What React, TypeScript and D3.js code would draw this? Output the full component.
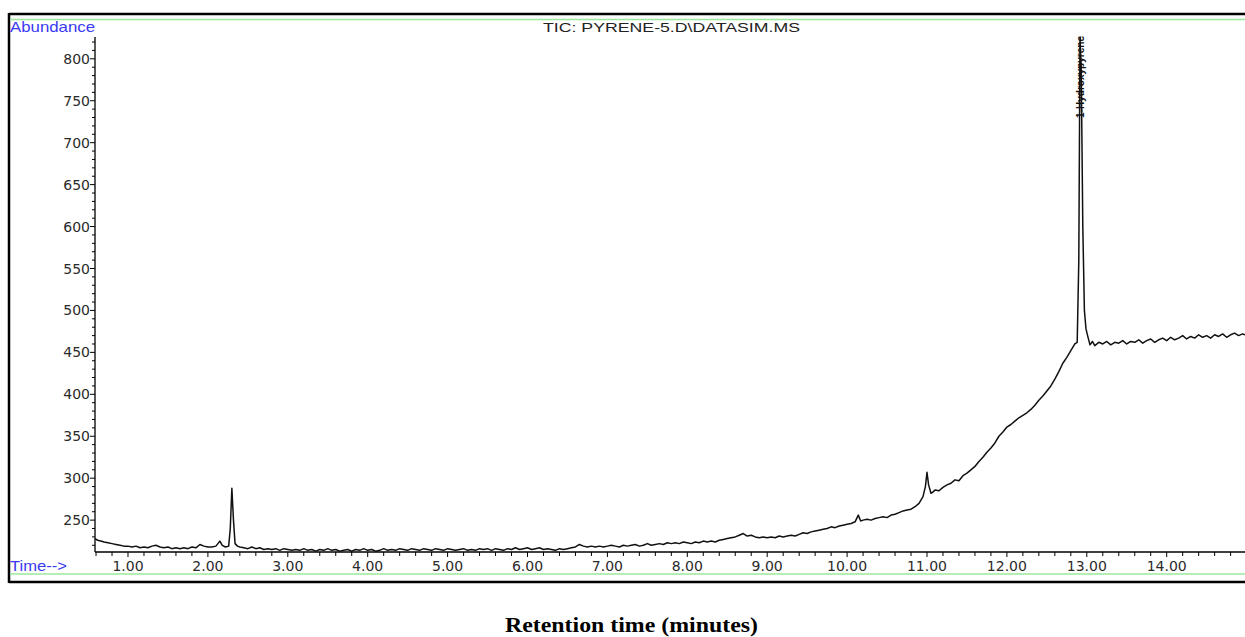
import * as d3 from "d3";
import React from "react";

// chromatogram trace, [retention time (min), abundance]
const earlyBaseline: [number, number][] = [
  [0.587, 228], [0.62, 226], [0.66, 225], [0.7, 224], [0.75, 223], [0.8, 222], [0.85, 221],
  [0.9, 220], [0.95, 219], [1.0, 219], [1.05, 218], [1.1, 219], [1.15, 217], [1.2, 218],
  [1.25, 217], [1.3, 219], [1.35, 220], [1.4, 218], [1.45, 217], [1.5, 218], [1.55, 216],
  [1.6, 217], [1.65, 216], [1.7, 217], [1.75, 216], [1.8, 218], [1.85, 217], [1.9, 221],
  [1.95, 219], [2.0, 218], [2.05, 218], [2.1, 219], [2.15, 225], [2.18, 220], [2.22, 218],
  [2.26, 219],
];

const firstPeak: [number, number][] = [
  [2.28, 240], [2.3, 288], [2.32, 250], [2.34, 222], [2.37, 219],
];

const flatBaseline: [number, number][] = [
  [2.4, 218], [2.45, 217], [2.5, 216], [2.55, 218], [2.6, 216], [2.65, 217], [2.7, 215],
  [2.75, 216], [2.8, 215], [2.85, 216], [2.9, 214], [2.95, 216], [3.0, 215], [3.05, 214],
  [3.1, 215], [3.15, 214], [3.2, 216], [3.25, 214], [3.3, 215], [3.35, 213], [3.4, 215],
  [3.45, 214], [3.5, 216], [3.55, 214], [3.6, 215], [3.65, 213], [3.7, 214], [3.75, 215],
  [3.8, 213], [3.85, 215], [3.9, 214], [3.95, 216], [4.0, 214], [4.05, 215], [4.1, 213],
  [4.15, 214], [4.2, 216], [4.25, 214], [4.3, 215], [4.35, 214], [4.4, 216], [4.45, 215],
  [4.5, 214], [4.55, 216], [4.6, 215], [4.65, 214], [4.7, 216], [4.75, 215], [4.8, 214],
  [4.85, 216], [4.9, 215], [4.95, 214], [5.0, 216], [5.05, 215], [5.1, 214], [5.15, 215],
  [5.2, 216], [5.25, 214], [5.3, 215], [5.35, 214], [5.4, 216], [5.45, 215], [5.5, 216],
  [5.55, 214], [5.6, 216], [5.65, 215], [5.7, 214], [5.75, 216], [5.8, 215], [5.85, 217],
  [5.9, 215], [5.95, 216], [6.0, 217], [6.05, 215], [6.1, 216], [6.15, 217], [6.2, 215],
  [6.25, 216], [6.3, 215], [6.35, 214], [6.4, 216], [6.45, 215], [6.5, 216], [6.55, 217],
];

const risingBaseline: [number, number][] = [
  [6.6, 218], [6.65, 221], [6.7, 219], [6.75, 218], [6.8, 219], [6.85, 218], [6.9, 219],
  [6.95, 218], [7.0, 219], [7.05, 220], [7.1, 219], [7.15, 218], [7.2, 220], [7.25, 219],
  [7.3, 220], [7.35, 221], [7.4, 219], [7.45, 220], [7.5, 222], [7.55, 220], [7.6, 221],
  [7.65, 222], [7.7, 221], [7.75, 223], [7.8, 222], [7.85, 223], [7.9, 222], [7.95, 224],
  [8.0, 223], [8.05, 222], [8.1, 224], [8.15, 223], [8.2, 225], [8.25, 224], [8.3, 225],
  [8.35, 224], [8.4, 226], [8.45, 227], [8.5, 228], [8.55, 229], [8.6, 230], [8.65, 232],
  [8.7, 234], [8.75, 231], [8.8, 232], [8.85, 230], [8.9, 229], [8.95, 230], [9.0, 229],
  [9.05, 230], [9.1, 229], [9.15, 231], [9.2, 230], [9.25, 231], [9.3, 232], [9.35, 231],
  [9.4, 233], [9.45, 235], [9.5, 234], [9.55, 236], [9.6, 237], [9.65, 238], [9.7, 239],
  [9.75, 240], [9.8, 242], [9.85, 241], [9.9, 243], [9.95, 244], [10.0, 245], [10.05, 246],
  [10.1, 248], [10.14, 256], [10.17, 249], [10.2, 250], [10.25, 251], [10.3, 250],
  [10.35, 252], [10.4, 253], [10.45, 254], [10.5, 253], [10.55, 256], [10.6, 257],
  [10.65, 259], [10.7, 261], [10.75, 262], [10.8, 263], [10.85, 266], [10.9, 270],
  [10.95, 278], [10.98, 290], [11.0, 307], [11.02, 292], [11.05, 282], [11.08, 284],
  [11.1, 286], [11.15, 285], [11.2, 289], [11.25, 292], [11.3, 294], [11.35, 298],
  [11.4, 297], [11.45, 303], [11.5, 306], [11.55, 310], [11.6, 314], [11.65, 320],
  [11.7, 325], [11.75, 331], [11.8, 336], [11.85, 342], [11.9, 350], [11.95, 355],
  [12.0, 361], [12.05, 364], [12.1, 368], [12.15, 372], [12.2, 375], [12.25, 378],
  [12.3, 382], [12.35, 387], [12.4, 393], [12.45, 398], [12.5, 404], [12.55, 410],
  [12.6, 418], [12.65, 427], [12.7, 437], [12.75, 444], [12.8, 452], [12.85, 460],
  [12.88, 462],
];

const mainPeak: [number, number][] = [
  [12.9, 560], [12.915, 825], [12.93, 790], [12.95, 600], [12.97, 500], [12.99, 478],
  [13.01, 470], [13.04, 459], [13.07, 463],
];

const plateau: [number, number][] = [
  [13.1, 458], [13.15, 462], [13.2, 460], [13.25, 463], [13.3, 459], [13.35, 462],
  [13.4, 461], [13.45, 464], [13.5, 460], [13.55, 463], [13.6, 462], [13.65, 465],
  [13.7, 461], [13.75, 464], [13.8, 466], [13.85, 462], [13.9, 465], [13.95, 467],
  [14.0, 464], [14.05, 468], [14.1, 465], [14.15, 467], [14.2, 470], [14.25, 466],
  [14.3, 469], [14.35, 467], [14.4, 471], [14.45, 468], [14.5, 470], [14.55, 467],
  [14.6, 471], [14.65, 469], [14.7, 472], [14.75, 468], [14.8, 471], [14.85, 473],
  [14.9, 470], [14.95, 472], [14.98, 471],
];

const xMajorTicks = [1, 2, 3, 4, 5, 6, 7, 8, 9, 10, 11, 12, 13, 14];
const yMajorTicks = [250, 300, 350, 400, 450, 500, 550, 600, 650, 700, 750, 800];

const title = "TIC: PYRENE-5.D\\DATASIM.MS";
const peakLabel = "1-Hydroxypyrene";
const peakTime = 12.915;

const W = 1245;
const H = 637;
const axisFont = "DejaVu Sans, sans-serif";
const labelFont = "Liberation Sans, Arial, sans-serif";

export default function App() {
  const trace = [
    ...earlyBaseline,
    ...firstPeak,
    ...flatBaseline,
    ...risingBaseline,
    ...mainPeak,
    ...plateau,
  ];

  const x = d3.scaleLinear().domain([0.587, 14.98]).range([95, 1245]);
  const y = d3.scaleLinear().domain([212, 826]).range([552, 37]);

  const line = d3
    .line<[number, number]>()
    .x((d) => x(d[0]))
    .y((d) => y(d[1]));

  // minor ticks every 0.2 min and every 10 counts
  const xMinor = d3.range(0.6, 14.99, 0.2).filter((t) => Math.abs(t - Math.round(t)) > 0.01);
  const yMinor = d3.range(220, 821, 10).filter((v) => v % 50 !== 0);

  return (
    <svg
      width={W}
      height={H}
      style={{ position: "absolute", left: 0, top: 0, background: "#fff" }}
    >
      {/* frame */}
      <line x1={9} x2={W} y1={14} y2={14} stroke="#000" strokeWidth={2.5} />
      <line x1={9} x2={W} y1={582} y2={582} stroke="#000" strokeWidth={2.5} />
      <line x1={9} x2={9} y1={13} y2={583} stroke="#000" strokeWidth={2.5} />
      <line x1={10} x2={W} y1={19.5} y2={19.5} stroke="#9de89d" strokeWidth={1.5} />
      <line x1={10} x2={W} y1={574} y2={574} stroke="#9de89d" strokeWidth={1.5} />

      <text
        x={10}
        y={32}
        fill="#3a3af0"
        fontFamily={labelFont}
        fontSize={14.5}
        textLength={85}
        lengthAdjust="spacingAndGlyphs"
      >
        Abundance
      </text>
      <text
        x={543}
        y={32}
        fill="#222"
        fontFamily={labelFont}
        fontSize={13.5}
        textLength={257}
        lengthAdjust="spacingAndGlyphs"
      >
        {title}
      </text>
      <text
        x={10}
        y={571}
        fill="#3a3af0"
        fontFamily={labelFont}
        fontSize={14.5}
        textLength={57}
        lengthAdjust="spacingAndGlyphs"
      >
        Time--&gt;
      </text>

      {/* y axis */}
      <line x1={95} x2={95} y1={y(826)} y2={y(212)} stroke="#000" strokeWidth={1.3} />
      {yMinor.map((v) => (
        <line key={"ym" + v} x1={92} x2={95} y1={y(v)} y2={y(v)} stroke="#000" strokeWidth={1} />
      ))}
      {yMajorTicks.map((v) => (
        <g key={"y" + v}>
          <line x1={90} x2={95} y1={y(v)} y2={y(v)} stroke="#000" strokeWidth={1} />
          <text
            x={90}
            y={y(v)}
            dy="0.36em"
            textAnchor="end"
            fill="#2a2a2a"
            fontFamily={axisFont}
            fontSize={14}
          >
            {v}
          </text>
        </g>
      ))}

      {/* x axis */}
      <line x1={95} x2={W} y1={552} y2={552} stroke="#000" strokeWidth={1.3} />
      {xMinor.map((t) => (
        <line key={"xm" + t} x1={x(t)} x2={x(t)} y1={552} y2={556} stroke="#000" strokeWidth={1} />
      ))}
      {xMajorTicks.map((t) => (
        <g key={"x" + t}>
          <line x1={x(t)} x2={x(t)} y1={552} y2={557} stroke="#000" strokeWidth={1} />
          <text
            x={x(t)}
            y={571}
            textAnchor="middle"
            fill="#2a2a2a"
            fontFamily={axisFont}
            fontSize={14}
          >
            {t.toFixed(2)}
          </text>
        </g>
      ))}

      {/* trace */}
      <path
        d={line(trace) ?? ""}
        fill="none"
        stroke="#111"
        strokeWidth={1.5}
        strokeLinejoin="round"
      />

      {/* peak annotation */}
      <text
        transform={`translate(${x(peakTime) + 4},${118}) rotate(-90)`}
        fill="#111"
        fontFamily={labelFont}
        fontSize={10.5}
        fontWeight="bold"
        textLength={82}
        lengthAdjust="spacingAndGlyphs"
      >
        {peakLabel}
      </text>

      <text
        x={505}
        y={632}
        fontFamily="Liberation Serif, Times New Roman, serif"
        fontWeight="bold"
        fontSize={22}
        textLength={253}
        lengthAdjust="spacingAndGlyphs"
        fill="#000"
      >
        Retention time (minutes)
      </text>
    </svg>
  );
}
